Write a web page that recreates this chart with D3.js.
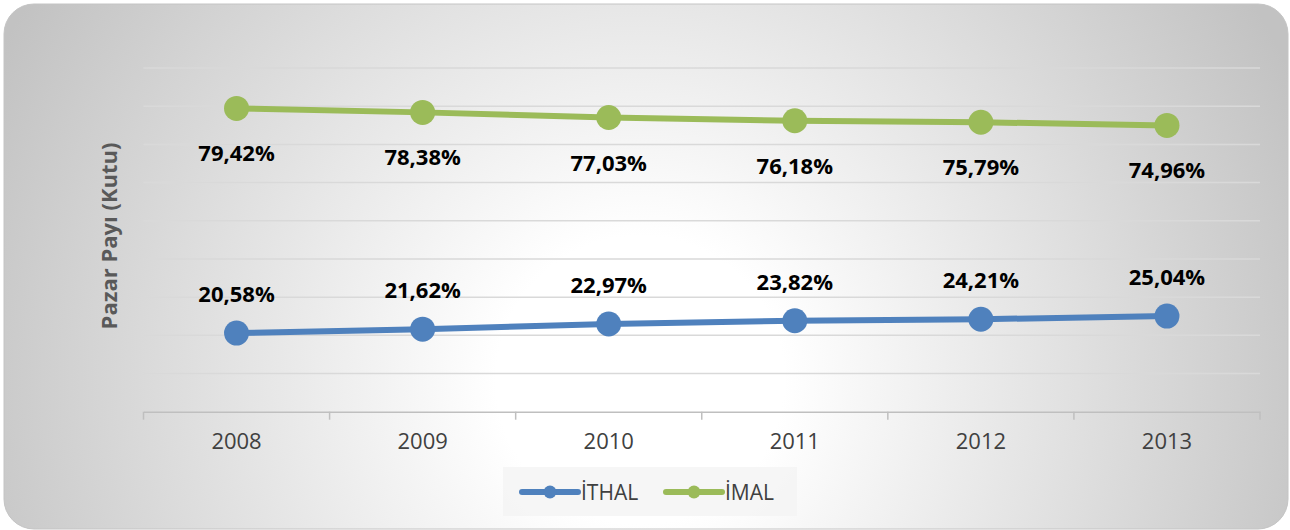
<!DOCTYPE html>
<html lang="tr">
<head>
  <meta charset="utf-8">
  <title>Pazar Payı (Kutu)</title>
  <script src="https://d3js.org/d3.v7.min.js"></script>
  <style>
    * { margin: 0; padding: 0; box-sizing: border-box; }
    html, body { width: 1290px; height: 530px; background: #fff; overflow: hidden; }
    svg { display: block; font-family: "Open Sans", sans-serif; }
  </style>
</head>
<body>
  <svg id="chart" width="1290" height="530"></svg>

  <script>
  // data
  const years = ["2008", "2009", "2010", "2011", "2012", "2013"];
  const ithal = [20.58, 21.62, 22.97, 23.82, 24.21, 25.04];
  const imal  = [79.42, 78.38, 77.03, 76.18, 75.79, 74.96];
  const seriesNames  = ["İTHAL", "İMAL"];
  const seriesColors = ["#4f81bd", "#9bbb59"];
  const gridValues = d3.range(10, 100, 10);

  const svg = d3.select("#chart");
  const W = 1290, H = 530;
  const plot = { left: 143.5, right: 1260, top: 68, bottom: 411.7 };

  // background with radial gradient
  const defs = svg.append("defs");
  const grad = defs.append("radialGradient")
    .attr("id", "bg")
    .attr("gradientUnits", "userSpaceOnUse")
    .attr("cx", 640).attr("cy", 380).attr("r", 720);
  grad.append("stop").attr("offset", 0).attr("stop-color", "#ffffff");
  grad.append("stop").attr("offset", 0.2).attr("stop-color", "#ffffff");
  grad.append("stop").attr("offset", 1).attr("stop-color", "#c2c2c2");

  svg.append("rect")
    .attr("x", 4).attr("y", 4)
    .attr("width", W - 6).attr("height", H - 5)
    .attr("rx", 30).attr("ry", 30)
    .attr("fill", "url(#bg)")
    .attr("stroke", "#c4c4c4").attr("stroke-width", 1);

  const x = d3.scaleBand().domain(years).range([plot.left, plot.right]);
  const y = d3.scaleLinear().domain([0, 90]).range([plot.bottom, plot.top]);
  const cx = d => x(d) + x.bandwidth() / 2;

  // gridlines
  svg.append("g").selectAll("line")
    .data(gridValues)
    .join("line")
    .attr("x1", plot.left).attr("x2", plot.right)
    .attr("y1", d => y(d)).attr("y2", d => y(d))
    .attr("stroke", "#d9d9d9").attr("stroke-width", 1.5);

  // x axis
  const xAxis = svg.append("g")
    .attr("transform", `translate(0,${plot.bottom})`)
    .call(d3.axisBottom(x).tickSize(0).tickPadding(22));
  xAxis.select(".domain").attr("stroke", "#bfbfbf").attr("stroke-width", 1.5);
  xAxis.selectAll("text")
    .attr("font-family", "Open Sans, sans-serif")
    .attr("font-size", 22).attr("fill", "#404040");

  // category separators
  const edges = years.map(d => x(d)).concat([plot.right]);
  svg.append("g").selectAll("line")
    .data(edges)
    .join("line")
    .attr("x1", d => d).attr("x2", d => d)
    .attr("y1", plot.bottom).attr("y2", plot.bottom + 8)
    .attr("stroke", "#bfbfbf").attr("stroke-width", 1.5);

  // y axis title
  svg.append("text")
    .attr("transform", "translate(117,236) rotate(-90)")
    .attr("text-anchor", "middle")
    .attr("font-size", 22).attr("font-weight", "bold")
    .attr("fill", "#595959")
    .text("Pazar Payı (Kutu)");

  const fmt = v => d3.format(".2f")(v).replace(".", ",") + "%";
  const line = d3.line().x((d, i) => cx(years[i])).y(d => y(d));

  const series = [
    { values: ithal, color: seriesColors[0], dy: -31 },
    { values: imal,  color: seriesColors[1], dy: 53 }
  ];

  series.forEach(s => {
    const g = svg.append("g");
    g.append("path")
      .datum(s.values)
      .attr("d", line)
      .attr("fill", "none")
      .attr("stroke", s.color)
      .attr("stroke-width", 6)
      .attr("stroke-linejoin", "round");
    g.selectAll("circle")
      .data(s.values)
      .join("circle")
      .attr("cx", (d, i) => cx(years[i]))
      .attr("cy", d => y(d))
      .attr("r", 12.5)
      .attr("fill", s.color);
    g.selectAll("text")
      .data(s.values)
      .join("text")
      .attr("x", (d, i) => cx(years[i]))
      .attr("y", d => y(d) + s.dy)
      .attr("text-anchor", "middle")
      .attr("font-size", 22).attr("font-weight", "bold")
      .attr("fill", "#000")
      .text(fmt);
  });

  // legend
  const legend = svg.append("g");
  legend.append("rect")
    .attr("x", 503).attr("y", 467)
    .attr("width", 294).attr("height", 49)
    .attr("fill", "#f4f4f4").attr("opacity", 0.8);

  const legendX = [522, 666];
  seriesNames.forEach((name, i) => {
    const lg = legend.append("g").attr("transform", `translate(${legendX[i]},492)`);
    lg.append("line")
      .attr("x1", 0).attr("x2", 56)
      .attr("stroke", seriesColors[i]).attr("stroke-width", 6)
      .attr("stroke-linecap", "round");
    lg.append("circle").attr("cx", 28).attr("r", 6.5).attr("fill", seriesColors[i]);
    lg.append("text")
      .attr("x", 59).attr("y", 8)
      .attr("font-size", 21).attr("fill", "#404040")
      .text(name);
  });
  </script>
</body>
</html>
